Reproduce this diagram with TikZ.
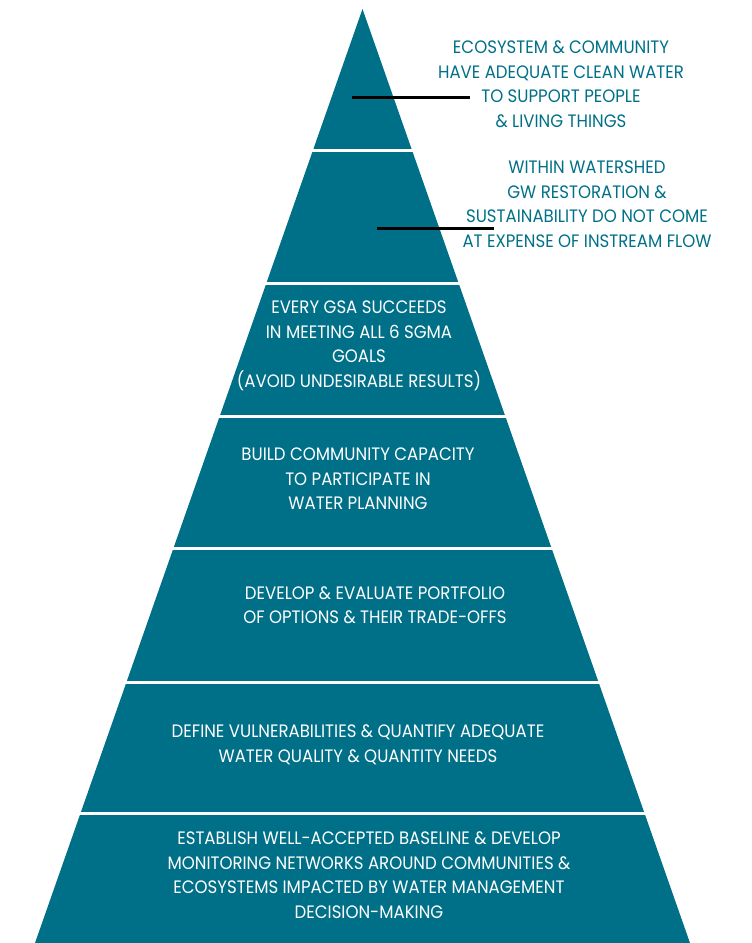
\documentclass[tikz,border=0pt]{standalone}
\usepackage{fontspec}
\setmainfont[FakeStretch=0.92]{Poppins}
\definecolor{pyrblue}{RGB}{0,112,136}

\begin{document}
\begin{tikzpicture} [x = 1pt, y = -1pt,
    bandtext/.style = {align = center, text = white, font = \fontsize{18}{24.5}\selectfont},
    sidetext/.style = {align = center, text = pyrblue, font = \fontsize{18}{24.5}\selectfont},
    leader/.style = {black, line width = 3pt}]

    \useasboundingbox (0,0) rectangle (752,943);

    % pyramid and the white gaps between its levels
    \fill [pyrblue] (362.5,9) -- (690,943) -- (35,943) -- cycle;
    \foreach \y in {150,283,416,548,682,813}
        \draw [white, line width = 3pt] (0,\y) -- (752,\y);

    \node [bandtext] (gsa) at (359,346) {EVERY GSA SUCCEEDS\\IN MEETING ALL 6 SGMA\\GOALS\\(AVOID UNDESIRABLE RESULTS)};
    \node [bandtext] (capacity) at (358,479) {BUILD COMMUNITY CAPACITY\\TO PARTICIPATE IN\\WATER PLANNING};
    \node [bandtext] (options) at (375,605) {DEVELOP \& EVALUATE PORTFOLIO\\OF OPTIONS \& THEIR TRADE-OFFS};
    \node [bandtext] (needs) at (358,745) {DEFINE VULNERABILITIES \& QUANTIFY ADEQUATE\\WATER QUALITY \& QUANTITY NEEDS};
    \node [bandtext] (baseline) at (369,875) {ESTABLISH WELL-ACCEPTED BASELINE \& DEVELOP\\MONITORING NETWORKS AROUND COMMUNITIES \&\\ECOSYSTEMS IMPACTED BY WATER MANAGEMENT\\DECISION-MAKING};

    % the two top levels are labelled beside the pyramid
    \node [sidetext] (water) at (561,84) {ECOSYSTEM \& COMMUNITY\\HAVE ADEQUATE CLEAN WATER\\TO SUPPORT PEOPLE\\\& LIVING THINGS};
    \node [sidetext] (instream) at (587,204) {WITHIN WATERSHED\\GW RESTORATION \&\\SUSTAINABILITY DO NOT COME\\AT EXPENSE OF INSTREAM FLOW};

    \coordinate (top tip) at (352,97);
    \coordinate (top end) at (470,97);
    \coordinate (second tip) at (377,228);
    \coordinate (second end) at (494,228);
    \draw [leader] (top tip) -- (top end);
    \draw [leader] (second tip) -- (second end);

\end{tikzpicture}
\end{document}
